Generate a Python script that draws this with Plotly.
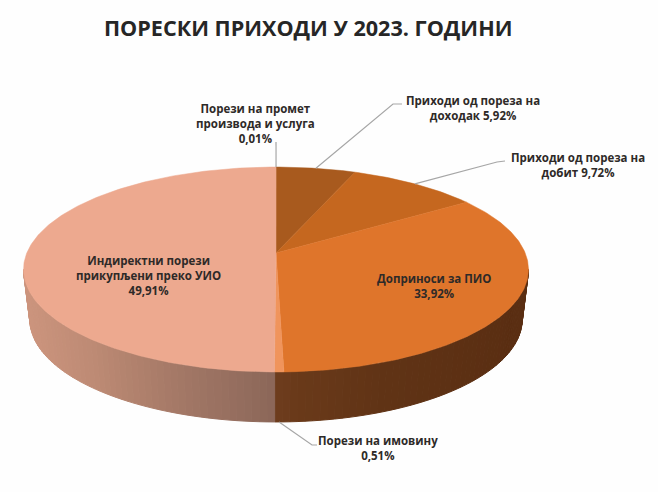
import numpy as np
import plotly.graph_objects as go

title = "ПОРЕСКИ ПРИХОДИ У 2023. ГОДИНИ"
categories = [
    "Порези на промет<br>производа и услуга",
    "Приходи од пореза на<br>доходак",
    "Приходи од пореза на<br>добит",
    "Доприноси за ПИО",
    "Порези на имовину",
    "Индиректни порези<br>прикупљени преко УИО",
]
shares = [0.01, 5.92, 9.72, 33.92, 0.51, 49.91]
value_breaks = ["<br>", " ", " ", "<br>", "<br>", "<br>"]
top_colors = ["#A85A1E", "#A85A1E", "#C5671F", "#DF752B", "#F0945C", "#EDA98F"]

# layout in page pixels
W, H = 658, 492
CX, CY, A, B, K = 276, 253, 249.2, 99.8, 0.161
DEPTH, SHRINK = 50, 0.975


def project(theta_deg):
    t = np.radians(theta_deg)
    u, v = np.sin(t), -np.cos(t)
    w = 1 - K * v
    return CX + A * u / w, CY + B * v / w


def hex_rgb(c):
    return np.array([int(c[i:i + 2], 16) for i in (1, 3, 5)], float)


def wall_color(x, stops):
    xs = [s[0] for s in stops]
    rgb = [hex_rgb(s[1]) for s in stops]
    vals = [np.interp(x, xs, [c[i] for c in rgb]) for i in range(3)]
    return "rgb(%d,%d,%d)" % tuple(vals)


total = sum(shares)
edges = np.concatenate([[0], np.cumsum(shares)]) / total * 360

fig = go.Figure()

# side wall
pink_wall = [(22, "#CD957E"), (90, "#BE8B75"), (170, "#A67A68"), (276, "#8B6759")]
dark_wall = [(276, "#6E3D1E"), (300, "#6A3A1A"), (380, "#613416"), (527, "#5A2E12")]
theta_start = np.degrees(np.arccos(-K))
theta_end = 360 - theta_start
steps = np.arange(theta_start, theta_end, 1.5)
for a, b in zip(steps, np.append(steps[1:], theta_end)):
    x0, y0 = project(a)
    x1, y1 = project(b)
    xm = (x0 + x1) / 2
    stops = dark_wall if (a + b) / 2 < edges[5] - 0.5 else pink_wall
    col = wall_color(xm, stops)
    bx0, bx1 = CX + (x0 - CX) * SHRINK, CX + (x1 - CX) * SHRINK
    fig.add_trace(go.Scatter(
        x=[x0, x1, bx1, bx0, x0], y=[y0, y1, y1 + DEPTH, y0 + DEPTH, y0],
        mode="lines", fill="toself", fillcolor=col,
        line=dict(color=col, width=1), hoverinfo="skip", showlegend=False))

# top face
for i in range(len(shares)):
    th = np.linspace(edges[i], edges[i + 1], max(2, int((edges[i + 1] - edges[i]) / 0.75) + 2))
    px, py = project(th)
    fig.add_trace(go.Scatter(
        x=np.concatenate([[CX], px, [CX]]), y=np.concatenate([[CY], py, [CY]]),
        mode="lines", fill="toself", fillcolor=top_colors[i],
        line=dict(color=top_colors[i], width=0.5),
        name=categories[i].replace("<br>", " "), hoverinfo="skip", showlegend=False))

# leader lines: from the slice's rim to the label
mid = (edges[:-1] + edges[1:]) / 2
leaders = {0: [(276, 142)], 1: [(393, 104), (402, 104)], 2: [(497, 162), (505, 161)],
           4: [(312, 445), (317, 445)]}
for i, pts in leaders.items():
    sx, sy = project(mid[i])
    if i == 4:
        sx, sy = CX + (sx - CX) * SHRINK, sy + DEPTH
    fig.add_trace(go.Scatter(
        x=[sx] + [p[0] for p in pts], y=[sy] + [p[1] for p in pts],
        mode="lines", line=dict(color="#A6A6A6", width=1.2),
        hoverinfo="skip", showlegend=False))

# labels
label_pos = [(255, 123), (473, 108), (578, 165), (434, 286), (378, 448), (148, 275)]
for i, (lx, ly) in enumerate(label_pos):
    pct = f"{shares[i]:.2f}".replace(".", ",") + "%"
    fig.add_annotation(
        x=lx, y=ly, xref="x", yref="y", showarrow=False, align="center",
        text=f"<b>{categories[i]}{value_breaks[i]}{pct}</b>",
        font=dict(family="Open Sans, Liberation Sans, sans-serif", size=11.5, color="#2E2A28"))

fig.add_annotation(
    x=308, y=27, xref="x", yref="y", showarrow=False,
    text=f"<b>{title}</b>",
    font=dict(family="Open Sans, Liberation Sans, sans-serif", size=21.6, color="#262626"))

fig.update_layout(
    width=W, height=H, margin=dict(l=0, r=0, t=0, b=0),
    paper_bgcolor="#FEFEFE", plot_bgcolor="#FEFEFE",
    xaxis=dict(range=[0, W], visible=False, fixedrange=True),
    yaxis=dict(range=[H, 0], visible=False, fixedrange=True),
    showlegend=False,
)
fig.write_html("out.html", config={"displayModeBar": False},
               post_script="document.body.style.margin='0';")
